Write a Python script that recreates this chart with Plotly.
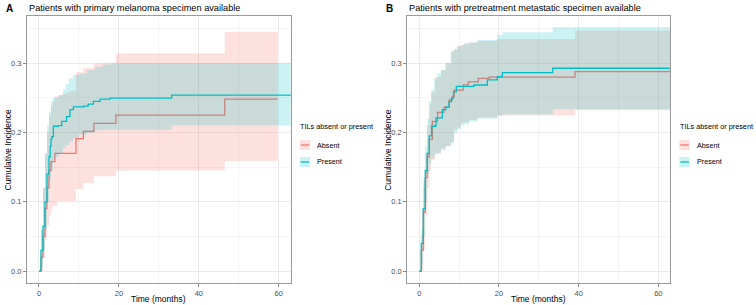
import plotly.graph_objects as go

# ---------------- Data ----------------
# Panel A: primary melanoma specimen
a_absent_t = [0, 0.5, 1, 1.5, 2, 2.5, 3, 4, 9.25, 11.1, 13.75, 19.25, 46.5, 59.75]
a_absent_y = [0, 0.02, 0.05, 0.09, 0.12, 0.145, 0.158, 0.17, 0.191, 0.2015, 0.213, 0.225, 0.248, 0.248]
a_absent_ci_t = [0, 0.5, 1, 1.5, 2, 2.5, 3, 3.5, 4, 4.5, 5, 6, 7, 8, 9.25, 11.1, 13.75, 19.25, 46.5, 59.75]
a_absent_hi = [0, 0.06, 0.12, 0.17, 0.2, 0.225, 0.238, 0.245, 0.252, 0.253, 0.254, 0.256, 0.258, 0.26,
               0.287, 0.293, 0.300, 0.314, 0.345, 0.345]
a_absent_lo = [0, 0.0, 0.02, 0.045, 0.065, 0.08, 0.09, 0.094, 0.094, 0.101, 0.101, 0.101, 0.101, 0.101,
               0.1186, 0.127, 0.137, 0.145, 0.159, 0.159]

a_present_t = [0, 0.5, 1, 1.5, 2, 2.5, 2.8, 3.0, 3.2, 3.6, 4.8, 5.7, 6.9, 7.75, 8.6, 11.1, 12.3, 13.6,
               15.3, 17.8, 33.2, 66]
a_present_y = [0, 0.03, 0.065, 0.1, 0.14, 0.165, 0.18, 0.19, 0.194, 0.209, 0.21, 0.216, 0.223, 0.233,
               0.237, 0.238, 0.241, 0.245, 0.248, 0.2495, 0.254, 0.254]
a_present_ci_t = [0, 0.5, 1, 1.5, 2, 2.5, 3, 3.5, 4, 5, 6, 6.7, 7.5, 8.5, 10, 12, 14, 16, 18, 33.2, 66]
a_present_hi = [0, 0.06, 0.12, 0.17, 0.21, 0.23, 0.245, 0.25, 0.25, 0.254, 0.262, 0.27, 0.278, 0.283,
                0.285, 0.29, 0.295, 0.298, 0.3, 0.3, 0.3]
a_present_lo = [0, 0.005, 0.03, 0.06, 0.1, 0.13, 0.145, 0.16, 0.165, 0.17, 0.178, 0.182, 0.187, 0.192,
                0.197, 0.2, 0.203, 0.204, 0.204, 0.21, 0.21]

# Panel B: pretreatment metastatic specimen
b_absent_t = [0, 0.5, 1, 1.5, 2, 2.5, 3.3, 4.6, 6.2, 7.5, 8.3, 8.75, 11, 12.3, 14.8, 17.5, 39.1, 66]
b_absent_y = [0, 0.03, 0.085, 0.135, 0.165, 0.19, 0.216, 0.229, 0.2365, 0.247, 0.252, 0.261, 0.2686,
              0.273, 0.278, 0.28, 0.2878, 0.2878]
b_absent_ci_t = [0, 0.5, 1, 1.5, 2, 2.5, 3, 4, 5.5, 6.5, 8, 8.75, 9.5, 10.4, 11, 12.5, 14.6, 19.6, 39.1, 66]
b_absent_hi = [0, 0.05, 0.12, 0.17, 0.21, 0.24, 0.258, 0.28, 0.29, 0.3, 0.318, 0.32, 0.325, 0.326,
               0.328, 0.33, 0.332, 0.335, 0.347, 0.347]
b_absent_lo = [0, 0.0, 0.03, 0.08, 0.12, 0.145, 0.16, 0.17, 0.177, 0.18, 0.187, 0.204, 0.207, 0.2135,
               0.215, 0.218, 0.2216, 0.2245, 0.232, 0.232]

b_present_t = [0, 0.5, 1, 1.5, 2, 2.5, 3.1, 4.2, 5.8, 6.7, 7.5, 8.1, 8.6, 9.3, 13.75, 17.1, 19.6, 20.85,
               33.5, 66]
b_present_y = [0, 0.04, 0.09, 0.145, 0.17, 0.195, 0.209, 0.221, 0.233, 0.2365, 0.2445, 0.2495, 0.259,
               0.2665, 0.2685, 0.276, 0.2806, 0.2863, 0.2927, 0.2927]
b_present_ci_t = [0, 0.5, 1, 1.5, 2, 2.5, 3, 3.75, 4.5, 5.4, 6.7, 7.9, 8.75, 9.6, 10.4, 11.25, 12.5,
                  14.6, 19.6, 20.85, 33.5, 66]
b_present_hi = [0, 0.06, 0.13, 0.18, 0.22, 0.245, 0.261, 0.278, 0.285, 0.29, 0.3, 0.3165, 0.32, 0.324,
                0.326, 0.3286, 0.33, 0.3334, 0.3406, 0.3445, 0.3517, 0.3517]
b_present_lo = [0, 0.01, 0.05, 0.1, 0.14, 0.155, 0.163, 0.168, 0.17, 0.175, 0.18, 0.185, 0.2, 0.205,
                0.21, 0.212, 0.216, 0.22, 0.224, 0.226, 0.2337, 0.2337]

groups = ["Absent", "Present"]
panel_titles = ["Patients with primary melanoma specimen available",
                "Patients with pretreatment metastatic specimen available"]
panel_tags = ["A", "B"]
legend_title = "TILs absent or present"
x_title = "Time (months)"
y_title = "Cumulative Incidence"
x_ticks = [0, 20, 40, 60]
y_ticks = [0.0, 0.1, 0.2, 0.3]
y_ticklabels = ["0.0", "0.1", "0.2", "0.3"]

# ---------------- Styling ----------------
W, H = 756, 305
RED, TEAL = "#F8766D", "#00BFC4"
RED_F, TEAL_F = "rgba(248,118,109,0.22)", "rgba(0,191,196,0.2)"
FONT = "Liberation Sans, Arial, sans-serif"

def px_x(p):
    return p / W

def px_y(p):
    return 1 - p / H

fig = go.Figure()

panels = [
    dict(xa="x", ya="y",
         series=[(a_absent_t, a_absent_y, a_absent_ci_t, a_absent_lo, a_absent_hi, RED, RED_F),
                 (a_present_t, a_present_y, a_present_ci_t, a_present_lo, a_present_hi, TEAL, TEAL_F)]),
    dict(xa="x2", ya="y2",
         series=[(b_absent_t, b_absent_y, b_absent_ci_t, b_absent_lo, b_absent_hi, RED, RED_F),
                 (b_present_t, b_present_y, b_present_ci_t, b_present_lo, b_present_hi, TEAL, TEAL_F)]),
]

for p in panels:
    for (t, y, ct, lo, hi, col, fcol), name in zip(p["series"], groups):
        fig.add_trace(go.Scatter(x=ct, y=lo, mode="lines", line=dict(width=0, shape="hv"),
                                 xaxis=p["xa"], yaxis=p["ya"], showlegend=False, hoverinfo="skip"))
        fig.add_trace(go.Scatter(x=ct, y=hi, mode="lines", line=dict(width=0, shape="hv"),
                                 fill="tonexty", fillcolor=fcol,
                                 xaxis=p["xa"], yaxis=p["ya"], showlegend=False, hoverinfo="skip"))
        fig.add_trace(go.Scatter(x=t, y=y, mode="lines", name=name,
                                 line=dict(color=col, width=1.3, shape="hv"),
                                 xaxis=p["xa"], yaxis=p["ya"], showlegend=False))

# plot-area pixel boxes
boxA = (27, 290.7)
boxB = (407.3, 670.3)
top_px, bot_px = 15.7, 283.3
yr = [-0.0176, 0.3685]

axis_common = dict(
    showline=True, mirror=True, linecolor="#9A9A9A", linewidth=1,
    ticks="outside", ticklen=3, tickcolor="#8A8A8A", tickwidth=1,
    showgrid=True, gridcolor="#EBEBEB", gridwidth=1, zeroline=False,
    tickfont=dict(family=FONT, size=7.5, color="#4D4D4D"),
)
xax = dict(axis_common, range=[-3, 63], tickvals=x_ticks, ticktext=[str(v) for v in x_ticks],
           minor=dict(showgrid=True, gridcolor="#F4F4F4", gridwidth=0.6, tickvals=[10, 30, 50]))
yax = dict(axis_common, range=yr, tickvals=y_ticks, ticktext=y_ticklabels,
           minor=dict(showgrid=True, gridcolor="#F4F4F4", gridwidth=0.6, tickvals=[0.05, 0.15, 0.25, 0.35]))

fig.update_layout(
    width=W, height=H, margin=dict(l=0, r=0, t=0, b=0),
    paper_bgcolor="white", plot_bgcolor="white",
    font=dict(family=FONT, color="black"),
    showlegend=False,
    xaxis=dict(xax, domain=[px_x(boxA[0]), px_x(boxA[1])], anchor="y"),
    yaxis=dict(yax, domain=[px_y(bot_px), px_y(top_px)], anchor="x"),
    xaxis2=dict(xax, domain=[px_x(boxB[0]), px_x(boxB[1])], anchor="y2"),
    yaxis2=dict(yax, domain=[px_y(bot_px), px_y(top_px)], anchor="x2"),
)

anns = []
shapes = []
for i, (box, tag, title) in enumerate(zip([boxA, boxB], panel_tags, panel_titles)):
    x0, x1 = box
    anns.append(dict(text=f"<b>{tag}</b>", x=px_x(x0 - 23), y=px_y(8), xref="paper", yref="paper",
                     xanchor="left", yanchor="middle", showarrow=False,
                     font=dict(family=FONT, size=10, color="black")))
    anns.append(dict(text=title, x=px_x(x0 - 0.5), y=px_y(8), xref="paper", yref="paper",
                     xanchor="left", yanchor="middle", showarrow=False,
                     font=dict(family=FONT, size=9.2, color="black")))
    anns.append(dict(text=x_title, x=px_x((x0 + x1) / 2), y=px_y(299), xref="paper", yref="paper",
                     xanchor="center", yanchor="middle", showarrow=False,
                     font=dict(family=FONT, size=8.5, color="black")))
    anns.append(dict(text=y_title, x=px_x(x0 - 20), y=px_y((top_px + bot_px) / 2), xref="paper",
                     yref="paper", xanchor="center", yanchor="middle", textangle=-90, showarrow=False,
                     font=dict(family=FONT, size=8.5, color="black")))
    # legend
    lx = x1 + 7.5
    anns.append(dict(text=legend_title, x=px_x(lx), y=px_y(127), xref="paper", yref="paper",
                     xanchor="left", yanchor="middle", showarrow=False,
                     font=dict(family=FONT, size=7.3, color="black")))
    for j, (name, col, fcol) in enumerate(zip(groups, [RED, TEAL], [RED_F, TEAL_F])):
        yc = 145 + 17 * j
        shapes.append(dict(type="rect", xref="paper", yref="paper",
                           x0=px_x(lx + 1.5), x1=px_x(lx + 12), y0=px_y(yc - 5), y1=px_y(yc + 5),
                           fillcolor=fcol, line=dict(width=0)))
        shapes.append(dict(type="line", xref="paper", yref="paper",
                           x0=px_x(lx + 2.5), x1=px_x(lx + 11), y0=px_y(yc), y1=px_y(yc),
                           line=dict(color=col, width=1.3)))
        anns.append(dict(text=name, x=px_x(lx + 17), y=px_y(yc), xref="paper", yref="paper",
                         xanchor="left", yanchor="middle", showarrow=False,
                         font=dict(family=FONT, size=7.2, color="black")))

fig.update_layout(annotations=anns, shapes=shapes)
fig.write_html("out.html")
